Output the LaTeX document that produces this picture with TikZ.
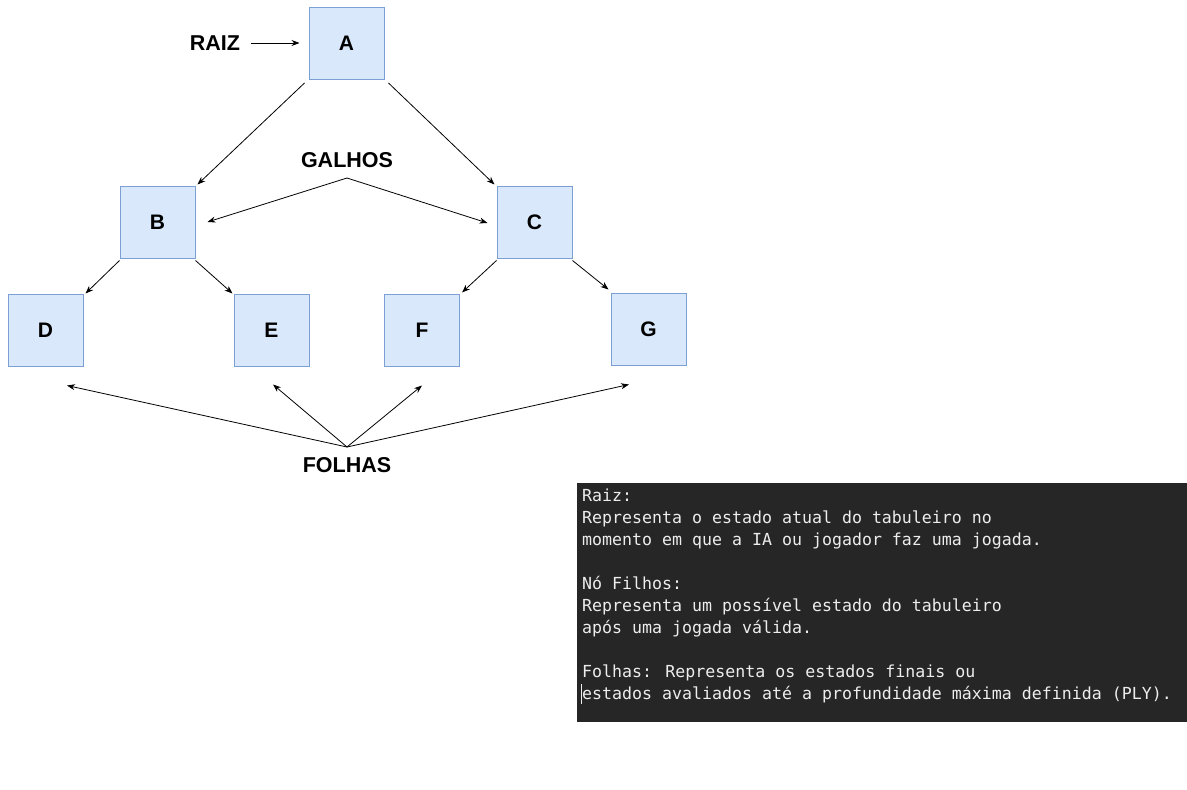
\documentclass[tikz,border=0pt]{standalone}
\usepackage{fontspec}
\setmainfont{Liberation Sans}
\newfontfamily\termfont{DejaVu Sans Mono}
\usetikzlibrary{arrows.meta}
\definecolor{nodefill}{HTML}{DAE8FC}
\definecolor{nodeborder}{HTML}{7C9FD6}
\definecolor{termbg}{HTML}{262626}
\definecolor{termfg}{HTML}{EDEDED}
\tikzset{
  treebox/.style={draw=nodeborder, line width=1pt, fill=nodefill, minimum width=75pt, minimum height=72pt, inner sep=0pt, font=\bfseries\fontsize{21}{25}\selectfont},
  lab/.style={inner sep=0pt, font=\bfseries\fontsize{21.5}{25}\selectfont},
  arr/.style={-{Stealth[length=8pt,width=6pt]}, line width=0.8pt, black}
}
\begin{document}
\begin{tikzpicture}[x=1pt,y=-1pt]
\fill[white] (0,0) rectangle (1187,790);
\useasboundingbox (0,0) rectangle (1187,790);
% nodes
\node[treebox] (A) at (346.5,43) {A};
\node[treebox] (B) at (157.5,222) {B};
\node[treebox] (C) at (534.5,222) {C};
\node[treebox] (D) at (45.5,330) {D};
\node[treebox] (E) at (271.5,330) {E};
\node[treebox] (F) at (422,330) {F};
\node[treebox] (G) at (648.5,329) {G};
% labels
\node[lab] (raiz) at (215,43) {RAIZ};
\node[lab] (galhos) at (347,160) {GALHOS};
\node[lab] (folhas) at (347,465) {FOLHAS};
\coordinate (gx) at (347,178);
\coordinate (fx) at (347,447);
% connectors
\draw[arr] ([shift={(11,0)}]raiz.east) -- ([shift={(-9,0)}]A.west);
\draw[arr] ([shift={(-4,3.5)}]A.south west) -- ([shift={(2,-1)}]B.north east);
\draw[arr] ([shift={(4,3.5)}]A.south east) -- ([shift={(-2,-1)}]C.north west);
\draw[arr] ([shift={(0,2)}]B.south west) -- ([shift={(2,0)}]D.north east);
\draw[arr] ([shift={(0,2)}]B.south east) -- ([shift={(-1,0)}]E.north west);
\draw[arr] ([shift={(0,2)}]C.south west) -- ([shift={(2,-1)}]F.north east);
\draw[arr] ([shift={(0,2)}]C.south east) -- ([shift={(-2,-3)}]G.north west);
\draw[arr] (gx) -- ([shift={(12,0)}]B.east);
\draw[arr] (gx) -- ([shift={(-9,1)}]C.west);
\draw[arr] (fx) -- ([shift={(21.5,19)}]D.south);
\draw[arr] (fx) -- ([shift={(1.5,18)}]E.south);
\draw[arr] (fx) -- ([shift={(0,19)}]F.south);
\draw[arr] (fx) -- ([shift={(-19.5,19)}]G.south);
% terminal box
\node[fill=termbg, minimum width=610pt, minimum height=239pt, anchor=north west, inner sep=0pt] (term) at (577,483) {};
\node[anchor=north west, align=left, inner sep=0pt, text=termfg, font=\termfont\fontsize{16.6}{22}\selectfont] (info) at (582,489) {Raiz:\\
Representa o estado atual do tabuleiro no\\
momento em que a IA ou jogador faz uma jogada.\\[22pt]
Nó Filhos:\\
Representa um possível estado do tabuleiro\\
após uma jogada válida.\\[22pt]
Folhas: Representa os estados finais ou\\
estados avaliados até a profundidade máxima definida (PLY).};
\draw[termfg, line width=0.8pt] ([shift={(4.5,201)}]term.north west) -- ([shift={(4.5,221)}]term.north west);
\end{tikzpicture}
\end{document}
